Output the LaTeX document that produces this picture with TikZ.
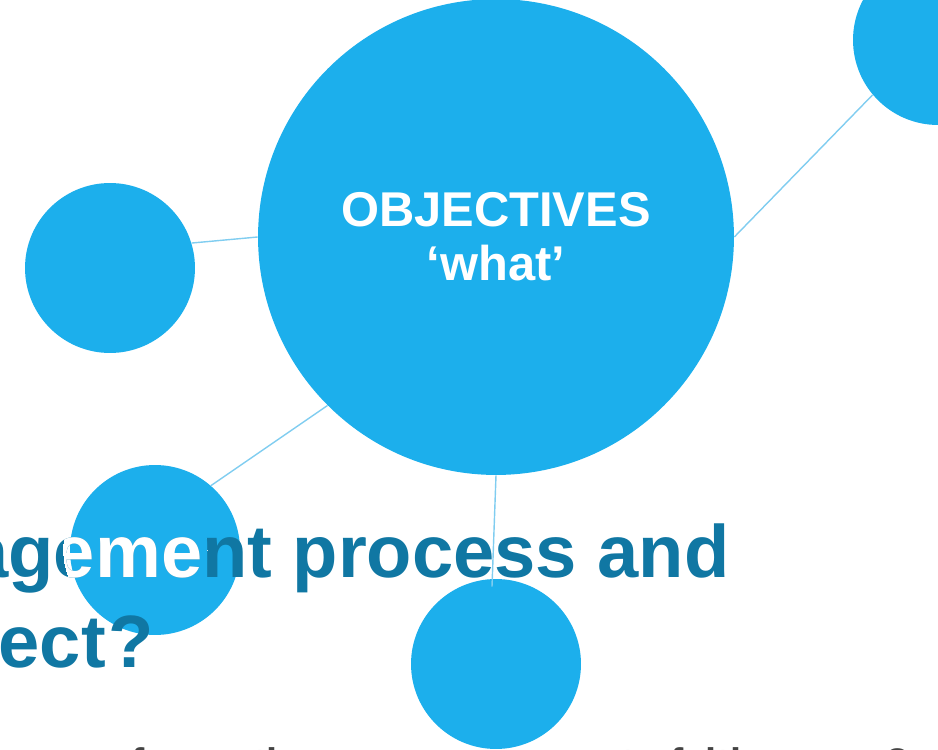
\documentclass[tikz,border=0pt]{standalone}
\usepackage{fontspec}
\setmainfont{Liberation Sans}
\usepackage{xcolor}
\usepackage{tikz}
\usetikzlibrary{positioning}
\definecolor{bubbleblue}{HTML}{1CAFEC}
\definecolor{linkblue}{HTML}{80CDF0}
\definecolor{headingblue}{HTML}{1077A3}
\definecolor{bodygray}{HTML}{444444}
\tikzstyle{bigbubble} = [circle, fill=bubbleblue, minimum size=9.52cm, inner sep=0pt, text=white, align=center, font=\bfseries\fontsize{27.8}{30.7}\selectfont]
\tikzstyle{smallbubble} = [circle, fill=bubbleblue, minimum size=3.4cm, inner sep=0pt]
\tikzstyle{link} = [draw=linkblue, line width=0.8pt]
\tikzstyle{heading} = [anchor=base east, inner sep=0pt, text=headingblue, font=\bfseries\fontsize{42.2}{48}\selectfont]
\tikzstyle{bodyline} = [anchor=base east, inner sep=0pt, text=bodygray, font=\bfseries\fontsize{22.7}{26}\selectfont]

\begin{document}
\begin{tikzpicture}[x=0.02cm, y=-0.02cm]
\useasboundingbox (0,0) rectangle (938,750);
\clip (0,0) rectangle (938,750);
% bubbles
\node[bigbubble] (objectives) at (496,237) {OBJECTIVES\\‘what’};
\node[smallbubble] (left) at (110,268) {};
\node[smallbubble] (lowleft) at (155,550) {};
\node[smallbubble] (bottom) at (496,664) {};
\node[smallbubble] (topright) at (938,40) {};
% slide title underneath
\node[heading] (titleone) at (730,578) {management process and};
\node[heading] (titletwo) at (154,667) {expect\kern0.05cm?};
\begin{scope}
  \clip (135,550) circle (72);
  \node[heading, text=white] at (730,578) {management process and};
\end{scope}
\node[bodyline] (body) at (910,776) {can mean for us the answers are as to faith or use?};
% links
\path[link] (objectives.180) -- (left.17);
\path[link] (objectives.225) -- (lowleft.49);
\path[link] (objectives.270) -- ([xshift=-0.08cm, yshift=-0.16cm]bottom.north);
\path[link] (objectives.0) -- (topright.220);
\end{tikzpicture}
\end{document}
